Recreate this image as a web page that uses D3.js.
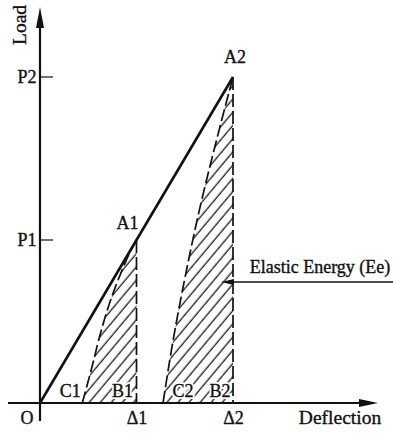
<!DOCTYPE html>
<html>
<head>
<meta charset="utf-8">
<script src="https://cdn.jsdelivr.net/npm/d3@7"></script>
<style>
  html, body { margin: 0; padding: 0; background: #fff; }
  svg { display: block; }
  text { font-family: "Liberation Serif", "Times New Roman", serif; fill: #111; }
  text.lbl { stroke: #111; stroke-width: 0.35; }
</style>
</head>
<body>
<svg id="chart" width="393" height="437"></svg>
<script>
// Loading line O -> A1 -> A2 (deflection, load)
const loadPointNames = ["O", "A1", "A2"];
const loadDeflection = [0, 1, 2];
const loadValues = [0, 1, 2];

// Unloading curves: from peak A back down to residual deflection C
const unload1Deflection = [0.438, 0.536, 0.622, 0.725, 0.860, 0.933, 1.0];
const unload1Load = [0, 0.215, 0.417, 0.620, 0.828, 0.926, 1.0];
const unload2Deflection = [1.275, 1.384, 1.513, 1.658, 1.824, 2.0];
const unload2Load = [0, 0.4, 0.8, 1.2, 1.6, 2.0];

// Tick labels
const yTickValues = [1, 2];
const yTickLabels = ["P1", "P2"];
const xTickValues = [1, 2];
const xTickLabels = ["\u03941", "\u03942"];

const svg = d3.select("#chart");
const x = d3.scaleLinear().domain([0, 2]).range([40, 233]);
const y = d3.scaleLinear().domain([0, 2]).range([403, 77]);

const ink = "#111";

// hatch pattern for the elastic energy regions
const defs = svg.append("defs");
const pat = defs.append("pattern")
  .attr("id", "hatch")
  .attr("patternUnits", "userSpaceOnUse")
  .attr("width", 8.5).attr("height", 8.5)
  .attr("patternTransform", "rotate(40)");
pat.append("line")
  .attr("x1", 4).attr("y1", 0).attr("x2", 4).attr("y2", 8.5)
  .attr("stroke", "#000").attr("stroke-width", 1.15);

const curves = [
  { d: unload1Deflection, p: unload1Load, peakD: loadDeflection[1], peakP: loadValues[1] },
  { d: unload2Deflection, p: unload2Load, peakD: loadDeflection[2], peakP: loadValues[2] }
];

const curveLine = d3.line()
  .x(v => x(v[0])).y(v => y(v[1]))
  .curve(d3.curveMonotoneY);

curves.forEach(c => {
  const pts = c.d.map((d, k) => [d, c.p[k]]);
  const region = curveLine(pts) + `L${x(c.peakD)},${y(0)}Z`;
  svg.append("path")
    .attr("d", region)
    .attr("fill", "url(#hatch)")
    .attr("stroke", "none");
  // unloading curve
  svg.append("path")
    .attr("d", curveLine(pts))
    .attr("fill", "none")
    .attr("stroke", ink)
    .attr("stroke-width", 1.7)
    .attr("stroke-dasharray", "12 4");
  // vertical from peak to deflection axis
  svg.append("line")
    .attr("x1", x(c.peakD)).attr("x2", x(c.peakD))
    .attr("y1", y(c.peakP)).attr("y2", y(0))
    .attr("stroke", ink)
    .attr("stroke-width", 1.7)
    .attr("stroke-dasharray", "13 4");
});

// loading line
svg.append("path")
  .attr("d", d3.line().x((d, i) => x(loadDeflection[i])).y((d, i) => y(loadValues[i]))(loadPointNames))
  .attr("fill", "none")
  .attr("stroke", ink)
  .attr("stroke-width", 2.6);

// axes
svg.append("line").attr("x1", 8).attr("x2", 362).attr("y1", y(0)).attr("y2", y(0))
  .attr("stroke", ink).attr("stroke-width", 2.2);
svg.append("path").attr("d", `M378,${y(0)}L359,${y(0) - 4}L359,${y(0) + 4}Z`).attr("fill", ink);
svg.append("line").attr("x1", x(0)).attr("x2", x(0)).attr("y1", 421).attr("y2", 26)
  .attr("stroke", ink).attr("stroke-width", 2.2);
svg.append("path").attr("d", `M${x(0)},7L${x(0) - 4},28L${x(0) + 4},28Z`).attr("fill", ink);

// load ticks
yTickValues.forEach((v, i) => {
  svg.append("line").attr("x1", x(0)).attr("x2", x(0) + 13)
    .attr("y1", y(v)).attr("y2", y(v))
    .attr("stroke", ink).attr("stroke-width", 1.2);
  svg.append("text").attr("class", "lbl").attr("x", 27).attr("y", y(v) + 6)
    .attr("text-anchor", "middle").attr("font-size", 18)
    .text(yTickLabels[i]);
});
xTickValues.forEach((v, i) => {
  svg.append("text").attr("class", "lbl").attr("x", x(v) + 0.5).attr("y", 424)
    .attr("text-anchor", "middle").attr("font-size", 18)
    .text(xTickLabels[i]);
});

// point labels
const pointLabels = [
  { t: "O", x: 27, y: 424, halo: false },
  { t: "A1", x: x(loadDeflection[1]) - 9, y: y(loadValues[1]) - 11, halo: false },
  { t: "A2", x: x(loadDeflection[2]) + 2, y: y(loadValues[2]) - 14, halo: false },
  { t: "C1", x: x(unload1Deflection[0]) - 12, y: 397, halo: false },
  { t: "B1", x: x(loadDeflection[1]) - 14, y: 397, halo: true },
  { t: "C2", x: x(unload2Deflection[0]) + 20, y: 397, halo: true },
  { t: "B2", x: x(loadDeflection[2]) - 13, y: 397, halo: true }
];
pointLabels.forEach(l => {
  if (l.halo) {
    svg.append("text").attr("x", l.x).attr("y", l.y)
      .attr("text-anchor", "middle").attr("font-size", 18)
      .attr("fill", "#fff").attr("stroke", "#fff").attr("stroke-width", 4)
      .text(l.t);
  }
  svg.append("text").attr("class", "lbl").attr("x", l.x).attr("y", l.y)
    .attr("text-anchor", "middle").attr("font-size", 18).text(l.t);
});

// axis titles
svg.append("text").attr("class", "lbl").attr("x", 340).attr("y", 424)
  .attr("text-anchor", "middle").attr("font-size", 19.5).text("Deflection");
svg.append("text").attr("class", "lbl").attr("transform", "translate(26,25) rotate(-90)")
  .attr("text-anchor", "middle").attr("font-size", 19.5).text("Load");

// elastic energy callout
svg.append("text").attr("class", "lbl").attr("x", 320).attr("y", 273)
  .attr("text-anchor", "middle").attr("font-size", 18).text("Elastic Energy (Ee)");
svg.append("line").attr("x1", 230).attr("x2", 393).attr("y1", 282).attr("y2", 282)
  .attr("stroke", ink).attr("stroke-width", 1.3);
svg.append("path").attr("d", "M221,282L234,279L234,285Z").attr("fill", ink);
</script>
</body>
</html>
